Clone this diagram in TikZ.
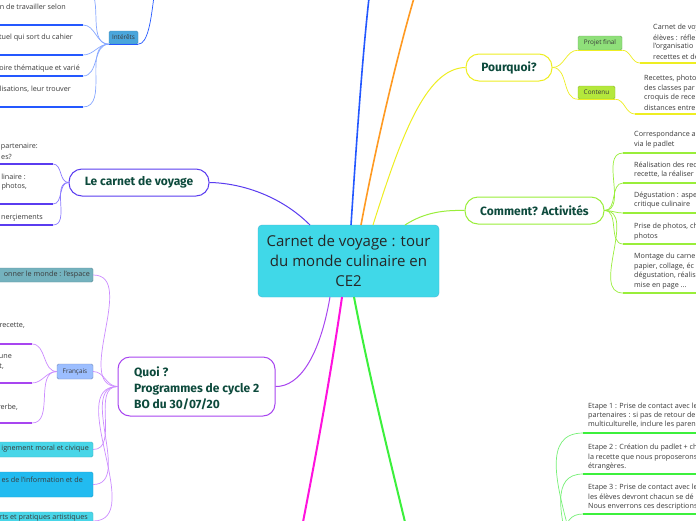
\documentclass[tikz,border=0pt]{standalone}
\usepackage{fontspec}
\setmainfont{Open Sans}
\newfontfamily\headfont{Fira Sans}
\usetikzlibrary{calc}
\definecolor{ctrfill}{HTML}{40D8E8}
\definecolor{ctrdraw}{HTML}{45B5D5}
\definecolor{headgreen}{HTML}{0D4A3C}
\definecolor{txtgray}{HTML}{3A3A3A}
\definecolor{cblue}{HTML}{2458FF}
\definecolor{corange}{HTML}{FF9A22}
\definecolor{cyellow}{HTML}{EEEE22}
\definecolor{cviolet}{HTML}{5A3CF0}
\definecolor{cviolight}{HTML}{8C7CFF}
\definecolor{clime}{HTML}{99EE3A}
\definecolor{cpurple}{HTML}{A845F0}
\definecolor{cpurlight}{HTML}{CC8CFF}
\definecolor{cmagenta}{HTML}{FF12DD}
\definecolor{cgreen}{HTML}{3CF03C}
\definecolor{cgreenlight}{HTML}{77F077}
\definecolor{cbluelight}{HTML}{88A8FF}
\definecolor{intfill}{HTML}{4AA6DC}
\definecolor{pffill}{HTML}{8FE07A}
\definecolor{cofill}{HTML}{B4E83C}
\definecolor{tealfill}{HTML}{74B2BE}
\definecolor{frfill}{HTML}{9CBEFF}
\definecolor{cyfill}{HTML}{48D6E8}
\definecolor{skyfill}{HTML}{22BBF0}
\begin{document}
\begin{tikzpicture}[x=1pt,y=-1pt,
  itemtxt/.style={inner sep=0pt, text=txtgray, font=\fontsize{7.2}{9}\selectfont},
  headtxt/.style={font=\headfont\bfseries\fontsize{12}{16}\selectfont, text=headgreen},
  tag/.style={rounded corners=1.5pt, inner sep=0pt, font=\fontsize{6.4}{7}\selectfont, text=txtgray},
  pill/.style={fill=white, line width=1pt, rounded corners=13pt, minimum height=27pt, inner sep=0pt, headtxt},
  uline/.style={line width=2pt},
  conn/.style={line width=0.7pt},
  mainline/.style={line width=1.6pt}]
\useasboundingbox (0,0) rectangle (696,520);
\clip (0,0) rectangle (696,520);
\fill[white] (0,0) rectangle (696,520);

% ---------- central node ----------
\node[draw=ctrdraw, fill=ctrfill, rounded corners=4pt, minimum width=181pt, minimum height=72pt,
      align=center, inner sep=0pt, font=\fontsize{15}{20}\selectfont, text=black!85] (ctr) at (348.5,261)
      {Carnet de voyage : tour\\du monde culinaire en\\CE2};

% ---------- main topic nodes ----------
\node[pill, draw=cyellow, minimum width=86pt] (pq) at (509,67.5) {Pourquoi?};
\node[pill, draw=clime, minimum width=139pt] (cm) at (534.5,210.5) {Comment? Activités};
\node[pill, draw=cviolet, minimum width=140pt] (cv) at (139,182.5) {Le carnet de voyage};
\node[draw=cpurple, fill=white, line width=1pt, rounded corners=12pt, minimum width=157pt, minimum height=59pt, inner sep=0pt] (qu) at (196.5,386.5) {};
\node[headtxt, anchor=west, align=left, inner sep=0pt] (qut) at (134,388) {Quoi ?\\Programmes de cycle 2\\BO du 30/07/20};

% ---------- branch lines from the centre ----------
\coordinate (cbl) at (351,225);
\coordinate (cor) at (361,225);
\coordinate (cye) at (373,225);
\coordinate (cvi) at (310,225);
\coordinate (cli) at (405,225);
\coordinate (cpu) at (330,297);
\coordinate (cma) at (342,297);
\coordinate (cgr) at (354,297);
\coordinate (topblue) at (369,-2);
\coordinate (toporange) at (414,-2);
\coordinate (botmag) at (303,522);
\coordinate (botgreen) at (405,522);

\draw[cblue, mainline] (cbl) .. controls (356,150) and (362,60) .. (topblue);
\draw[corange, mainline] (cor) .. controls (375,150) and (396,60) .. (toporange);
\draw[cyellow, line width=1pt] (cye) .. controls (400,140) and (425,68) .. (pq.west);
\draw[cviolet, line width=1pt] (cvi) .. controls (280,195) and (240,183) .. (cv.east);
\draw[clime, line width=1pt] (cli) .. controls (425,212) and (445,210) .. (cm.west);
\draw[cpurple, line width=1pt] (cpu) .. controls (320,355) and (300,387) .. (qu.east);
\draw[cmagenta, line width=2pt] (cma) .. controls (330,380) and (315,460) .. (botmag);
\draw[cgreen, line width=2pt] (cgr) .. controls (370,380) and (390,460) .. (botgreen);

% ---------- Pourquoi ----------
\node[tag, fill=pffill, draw=pffill!80!black, minimum width=44pt, minimum height=14pt] (pf) at (600,43) {Projet final};
\node[tag, fill=cofill, draw=cofill!80!black, minimum width=37pt, minimum height=13pt] (co) at (596.5,92.5) {Contenu};
\coordinate (pfu) at (640,63);
\coordinate (pfe) at (700,63);
\coordinate (cou) at (635,114);
\coordinate (coe) at (700,114);
\draw[cyellow, conn] (pq.east) to[out=0,in=180] (pf.south west);
\draw[cyellow, line width=1.2pt] (pf.south west) -- (pf.south east);
\draw[cyellow, conn] (pf.south east) to[out=0,in=180] (pfu);
\draw[cyellow, uline] (pfu) -- (pfe);
\draw[cyellow, conn] (pq.east) to[out=0,in=180] (co.south west);
\draw[cyellow, line width=1.2pt] (co.south west) -- (co.south east);
\draw[cyellow, conn] (co.south east) to[out=0,in=180] (cou);
\draw[cyellow, uline] (cou) -- (coe);
\node[itemtxt, anchor=west] (pf1) at (653,28) {Carnet de voy};
\node[itemtxt, anchor=west] (pf2) at (653,37.5) {élèves : réfle};
\node[itemtxt, anchor=west] (pf3) at (653,47) {l'organisatio};
\node[itemtxt, anchor=west] (pf4) at (653,56.5) {recettes et de};
\node[itemtxt, anchor=west] (co1) at (644,79) {Recettes, photo};
\node[itemtxt, anchor=west] (co2) at (644,88.5) {des classes par};
\node[itemtxt, anchor=west] (co3) at (644,98) {croquis de rece};
\node[itemtxt, anchor=west] (co4) at (644,107.5) {distances entre};

% ---------- Comment? Activites ----------
\foreach \yy/\nm in {153/a1,183/a2,213/a3,244/a4,293/a5}{
  \coordinate (\nm s) at (623,\yy);
  \coordinate (\nm e) at (700,\yy);
  \draw[clime, conn] (cm.east) to[out=0,in=180] (\nm s);
  \draw[clime, uline] (\nm s) -- (\nm e);
}
\node[itemtxt, anchor=west] (t11) at (634,135) {Correspondance a};
\node[itemtxt, anchor=west] (t12) at (634,144.5) {via le padlet};
\node[itemtxt, anchor=west] (t21) at (634,165) {Réalisation des rec};
\node[itemtxt, anchor=west] (t22) at (634,174.5) {recette, la réaliser};
\node[itemtxt, anchor=west] (t31) at (634,195.5) {Dégustation : aspe};
\node[itemtxt, anchor=west] (t32) at (634,205) {critique culinaire};
\node[itemtxt, anchor=west] (t41) at (634,227) {Prise de photos, ch};
\node[itemtxt, anchor=west] (t42) at (634,236.5) {photos};
\node[itemtxt, anchor=west] (t51) at (634,257) {Montage du carne};
\node[itemtxt, anchor=west] (t52) at (634,266.5) {papier, collage, éc};
\node[itemtxt, anchor=west] (t53) at (634,276) {dégustation, réalis};
\node[itemtxt, anchor=west] (t54) at (634,285.5) {mise en page ...};

% ---------- Etapes (bottom right) ----------
\coordinate (etp) at (558,640);
\foreach \yy/\nm in {433/e1,474/e2,514/e3}{
  \coordinate (\nm s) at (583,\yy);
  \coordinate (\nm e) at (700,\yy);
  \draw[cgreenlight, conn] (\nm s) to[out=180,in=0] (etp);
  \draw[cgreen, uline] (\nm s) -- (\nm e);
}
\node[itemtxt, anchor=west] (e11) at (588,407) {Etape 1 : Prise de contact avec le};
\node[itemtxt, anchor=west] (e12) at (588,416) {partenaires : si pas de retour de};
\node[itemtxt, anchor=west] (e13) at (588,425) {multiculturelle, inclure les paren};
\node[itemtxt, anchor=west] (e21) at (588,448) {Etape 2 : Création du padlet + ch};
\node[itemtxt, anchor=west] (e22) at (588,457.5) {la recette que nous proposerons};
\node[itemtxt, anchor=west] (e23) at (588,467) {étrangères.};
\node[itemtxt, anchor=west] (e31) at (588,487.5) {Etape 3 : Prise de contact avec le};
\node[itemtxt, anchor=west] (e32) at (588,497) {les élèves devront chacun se dé};
\node[itemtxt, anchor=west] (e33) at (588,506.5) {Nous enverrons ces descriptions};

% ---------- Interets (top left) ----------
\node[tag, fill=intfill, draw=intfill!85!black, minimum width=29pt, minimum height=13pt] (int) at (123.5,37.5) {Intérêts};
\coordinate (intpar) at (154,-4);
\draw[cblue, conn] (int.south east) .. controls (148,44) and (151,20) .. (intpar);
\draw[cblue, line width=1.2pt] (int.south west) -- (int.south east);
\foreach \yy/\nm in {-12/i0,25/i1,55/i2,76/i3,107/i4}{
  \coordinate (\nm s) at (-5,\yy);
  \coordinate (\nm e) at (83,\yy);
  \draw[cbluelight, conn] (\nm e) to[out=0,in=180] (int.south west);
  \draw[cblue, uline] (\nm s) -- (\nm e);
}
\node[itemtxt, anchor=east] (i1t) at (66,7) {n de travailler selon};
\node[itemtxt, anchor=east] (i2t) at (73,38) {tuel qui sort du cahier};
\node[itemtxt, anchor=east] (i3t) at (80,69) {oire thématique et varié};
\node[itemtxt, anchor=east] (i4t) at (71,89) {lisations, leur trouver};

% ---------- Le carnet de voyage ----------
\foreach \yy/\nm in {164/v1,204/v2,225/v3}{
  \coordinate (\nm s) at (-5,\yy);
  \coordinate (\nm e) at (53,\yy);
  \draw[cviolight, conn] (\nm e) to[out=0,in=180] (cv.west);
  \draw[cviolet, uline] (\nm s) -- (\nm e);
}
\node[itemtxt, anchor=east] (v1a) at (38,147) {partenaire:};
\node[itemtxt, anchor=east] (v1b) at (12,157) {es?};
\node[itemtxt, anchor=east] (v2a) at (26,177) {linaire :};
\node[itemtxt, anchor=east] (v2b) at (27,187) {photos,};
\node[itemtxt, anchor=east] (v3a) at (43,218) {nerçiements};

% ---------- Quoi ? ----------
\node[tag, fill=tealfill, draw=tealfill!80!black, minimum width=100pt, minimum height=14pt] (tb) at (43,275) {};
\node[itemtxt, anchor=east] (tbt) at (90,275) {onner le monde : l'espace};
\node[tag, fill=frfill, draw=frfill!75!black, minimum width=36pt, minimum height=15pt] (fr) at (75,371.5) {Français};
\node[tag, fill=cyfill, draw=cyfill!85!black, minimum width=100pt, minimum height=15pt] (cy) at (43,449.5) {};
\node[itemtxt, anchor=east] (cyt) at (89,449) {ignement moral et civique};
\node[tag, fill=skyfill, draw=skyfill!85!black, minimum width=100pt, minimum height=25pt] (sk) at (43,484.5) {};
\node[itemtxt, anchor=east] (skt) at (83,480) {es de l'information et de};
\node[tag, fill=cyfill, draw=cyfill!85!black, minimum width=100pt, minimum height=18pt] (ar) at (43,521) {};
\node[itemtxt, anchor=east] (art) at (88,518) {rts et pratiques artistiques};

\foreach \tg in {tb,fr,cy,sk,ar}{
  \draw[cpurlight, conn] (qu.west) to[out=180,in=0] (\tg.east);
}
\foreach \yy/\nm in {344/f1,383/f2,423/f3}{
  \coordinate (\nm s) at (-5,\yy);
  \coordinate (\nm e) at (32,\yy);
  \draw[cpurlight, conn] (\nm e) to[out=0,in=180] (fr.west);
  \draw[cpurple, uline] (\nm s) -- (\nm e);
}
\node[itemtxt, anchor=east] (f1a) at (25,326) {recette,};
\node[itemtxt, anchor=east] (f2a) at (12,357) {une};
\node[itemtxt, anchor=east] (f2b) at (4,367) {t,};
\node[itemtxt, anchor=east] (f3a) at (18,407) {rerbe,};
\end{tikzpicture}
\end{document}
